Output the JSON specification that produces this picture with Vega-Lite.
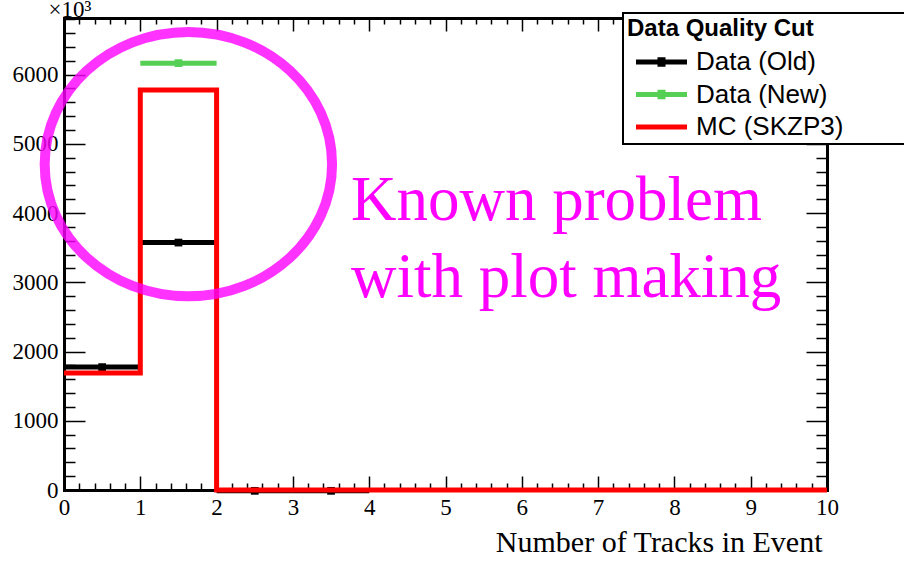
{
  "$schema": "https://vega.github.io/schema/vega-lite/v6.json",
  "width": 763,
  "height": 472,
  "autosize": "none",
  "padding": {"left": 64, "top": 18, "right": 77, "bottom": 72},
  "background": "white",
  "config": {"view": {"stroke": null}, "font": "Liberation Serif"},
  "datasets": {
    "points": [
      {"series": "Data (Old)", "lo": 0, "hi": 1, "mid": 0.5, "count": 1775},
      {"series": "Data (Old)", "lo": 1, "hi": 2, "mid": 1.5, "count": 3574},
      {"series": "Data (Old)", "lo": 2, "hi": 3, "mid": 2.5, "count": -12},
      {"series": "Data (Old)", "lo": 3, "hi": 4, "mid": 3.5, "count": -12},
      {"series": "Data (New)", "lo": 1, "hi": 2, "mid": 1.5, "count": 6166}
    ],
    "mc": [
      {"series": "MC (SKZP3)", "lo": 0, "hi": 1, "count": 1691},
      {"series": "MC (SKZP3)", "lo": 1, "hi": 2, "count": 5779},
      {"series": "MC (SKZP3)", "lo": 2, "hi": 3, "count": 0},
      {"series": "MC (SKZP3)", "lo": 3, "hi": 4, "count": 0},
      {"series": "MC (SKZP3)", "lo": 4, "hi": 5, "count": 0},
      {"series": "MC (SKZP3)", "lo": 5, "hi": 6, "count": 0},
      {"series": "MC (SKZP3)", "lo": 6, "hi": 7, "count": 0},
      {"series": "MC (SKZP3)", "lo": 7, "hi": 8, "count": 0},
      {"series": "MC (SKZP3)", "lo": 8, "hi": 9, "count": 0},
      {"series": "MC (SKZP3)", "lo": 9, "hi": 10, "count": 0}
    ]
  },
  "resolve": {"axis": {"x": "independent", "y": "independent"}},
  "layer": [
    {
      "data": {"name": "points"},
      "mark": {"type": "rule", "strokeWidth": 5, "strokeCap": "butt"},
      "encoding": {
        "x": {
          "field": "lo", "type": "quantitative",
          "scale": {"domain": [0, 10], "nice": false, "zero": false},
          "axis": {
            "orient": "bottom",
            "values": [0,0.2,0.4,0.6,0.8,1,1.2,1.4,1.6,1.8,2,2.2,2.4,2.6,2.8,3,3.2,3.4,3.6,3.8,4,4.2,4.4,4.6,4.8,5,5.2,5.4,5.6,5.8,6,6.2,6.4,6.6,6.8,7,7.2,7.4,7.6,7.8,8,8.2,8.4,8.6,8.8,9,9.2,9.4,9.6,9.8,10],
            "labelExpr": "datum.value % 1 === 0 ? format(datum.value, 'd') : ''",
            "labelOverlap": false,
            "labelFlush": false,
            "labelFont": "Liberation Serif",
            "labelFontSize": 23,
            "labelColor": "black",
            "labelPadding": 20,
            "tickSize": {"condition": {"test": "datum.value % 1 === 0", "value": -14}, "value": -7},
            "tickColor": "black",
            "tickWidth": 1.5,
            "domainColor": "black",
            "domainWidth": 3,
            "domainCap": "square",
            "grid": false,
            "title": "Number of Tracks in Event",
            "titleFont": "Liberation Serif",
            "titleFontSize": 30,
            "titleFontWeight": "normal",
            "titleColor": "black",
            "titleAnchor": "end",
            "titleAlign": "right",
            "titleBaseline": "alphabetic",
            "titleX": 758,
            "titleY": 61
          }
        },
        "x2": {"field": "hi"},
        "y": {
          "field": "count", "type": "quantitative",
          "scale": {"domain": [0, 6818], "nice": false, "zero": false},
          "axis": {
            "orient": "left",
            "values": [0,200,400,600,800,1000,1200,1400,1600,1800,2000,2200,2400,2600,2800,3000,3200,3400,3600,3800,4000,4200,4400,4600,4800,5000,5200,5400,5600,5800,6000,6200,6400,6600,6800],
            "labelExpr": "datum.value % 1000 === 0 ? format(datum.value, 'd') : ''",
            "labelOverlap": false,
            "labelFlush": false,
            "labelFont": "Liberation Serif",
            "labelFontSize": 23,
            "labelColor": "black",
            "labelPadding": 27,
            "tickSize": {"condition": {"test": "datum.value % 1000 === 0", "value": -21}, "value": -11},
            "tickColor": "black",
            "tickWidth": 1.5,
            "domainColor": "black",
            "domainWidth": 3,
            "domainCap": "square",
            "grid": false,
            "title": "×10³",
            "titleFont": "Liberation Serif",
            "titleFontSize": 23,
            "titleFontWeight": "normal",
            "titleColor": "black",
            "titleAngle": 0,
            "titleAlign": "left",
            "titleBaseline": "alphabetic",
            "titleX": -16,
            "titleY": -2
          }
        },
        "color": {
          "field": "series", "type": "nominal",
          "scale": {"domain": ["Data (Old)", "Data (New)", "MC (SKZP3)"], "range": ["#000000", "#55d055", "#ff0000"]},
          "legend": {
            "orient": "none",
            "legendX": 559,
            "legendY": -5,
            "title": "Data Quality Cut\u2800\u2800\u2800\u2800\u2800\u2800",
            "titleFont": "Liberation Sans",
            "titleFontSize": 24,
            "titleFontWeight": "bold",
            "titleColor": "black",
            "titlePadding": 8,
            "titleLimit": 400,
            "labelFont": "Liberation Sans",
            "labelFontSize": 26,
            "labelColor": "black",
            "labelLimit": 400,
            "labelOffset": 43,
            "symbolSize": 400,
            "rowPadding": 6.5,
            "padding": 4,
            "fillColor": "white",
            "strokeColor": "black",
            "zindex": 1,
            "encode": {
              "symbols": {
                "update": {
                  "shape": {"signal": "datum.value === 'MC (SKZP3)' ? 'M-0.4,0H4.7' : 'M-0.4,0H4.7M2.0,-0.22H2.3V0.22H2.0Z'"},
                  "strokeWidth": {"value": 5},
                  "fill": {"value": "transparent"},
                  "stroke": {"scale": "color", "field": "value"},
                  "size": {"value": 400},
                  "opacity": {"value": 1}
                }
              },
              "legend": {"update": {"strokeWidth": {"value": 2}}}
            }
          }
        }
      }
    },
    {
      "data": {"name": "points"},
      "mark": {"type": "point", "shape": "square", "filled": true, "size": 60, "opacity": 1},
      "encoding": {
        "x": {"field": "mid", "type": "quantitative", "scale": {"domain": [0, 10], "nice": false, "zero": false}, "axis": null},
        "y": {"field": "count", "type": "quantitative", "scale": {"domain": [0, 6818], "nice": false, "zero": false}, "axis": null},
        "color": {"field": "series", "type": "nominal"}
      }
    },
    {
      "data": {"name": "mc"},
      "transform": [{"fold": ["lo", "hi"], "as": ["edge", "x"]}],
      "mark": {"type": "line", "strokeWidth": 5, "strokeJoin": "miter", "strokeCap": "butt"},
      "encoding": {
        "x": {"field": "x", "type": "quantitative", "scale": {"domain": [0, 10], "nice": false, "zero": false}, "axis": null},
        "y": {"field": "count", "type": "quantitative", "scale": {"domain": [0, 6818], "nice": false, "zero": false}, "axis": null},
        "order": [{"field": "lo", "type": "quantitative"}, {"field": "x", "type": "quantitative"}],
        "color": {"field": "series", "type": "nominal"}
      }
    },
    {
      "data": {"values": [{}]},
      "mark": {
        "type": "point",
        "shape": "M1,0C1,0.508,0.552,0.92,0,0.92C-0.552,0.92,-1,0.508,-1,0C-1,-0.508,-0.552,-0.92,0,-0.92C0.552,-0.92,1,-0.508,1,0Z",
        "size": 82600,
        "filled": false,
        "stroke": "#ff00ff",
        "strokeWidth": 10,
        "opacity": 0.8
      },
      "encoding": {
        "x": {
          "datum": 1.63, "type": "quantitative",
          "scale": {"domain": [0, 10], "nice": false, "zero": false},
          "axis": {
            "orient": "top",
            "values": [0,0.2,0.4,0.6,0.8,1,1.2,1.4,1.6,1.8,2,2.2,2.4,2.6,2.8,3,3.2,3.4,3.6,3.8,4,4.2,4.4,4.6,4.8,5,5.2,5.4,5.6,5.8,6,6.2,6.4,6.6,6.8,7,7.2,7.4,7.6,7.8,8,8.2,8.4,8.6,8.8,9,9.2,9.4,9.6,9.8,10],
            "labels": false,
            "tickSize": {"condition": {"test": "datum.value % 1 === 0", "value": -13}, "value": -6},
            "tickColor": "black",
            "tickWidth": 1.5,
            "domainColor": "black",
            "domainWidth": 3,
            "domainCap": "square",
            "grid": false,
            "title": null
          }
        },
        "y": {
          "datum": 4707, "type": "quantitative",
          "scale": {"domain": [0, 6818], "nice": false, "zero": false},
          "axis": {
            "orient": "right",
            "values": [0,200,400,600,800,1000,1200,1400,1600,1800,2000,2200,2400,2600,2800,3000,3200,3400,3600,3800,4000,4200,4400,4600,4800,5000,5200,5400,5600,5800,6000,6200,6400,6600,6800],
            "labels": false,
            "tickSize": {"condition": {"test": "datum.value % 1000 === 0", "value": -21}, "value": -11},
            "tickColor": "black",
            "tickWidth": 1.5,
            "domainColor": "black",
            "domainWidth": 3,
            "domainCap": "square",
            "grid": false,
            "title": null
          }
        }
      }
    },
    {
      "data": {"values": [{}]},
      "mark": {
        "type": "text",
        "text": ["Known problem", "with plot making"],
        "font": "Liberation Serif",
        "fontSize": 63,
        "lineHeight": 77,
        "fill": "#ff00ff",
        "align": "left",
        "baseline": "alphabetic"
      },
      "encoding": {
        "x": {"datum": 3.76, "type": "quantitative", "scale": {"domain": [0, 10], "nice": false, "zero": false}, "axis": null},
        "y": {"datum": 3903, "type": "quantitative", "scale": {"domain": [0, 6818], "nice": false, "zero": false}, "axis": null}
      }
    }
  ]
}
